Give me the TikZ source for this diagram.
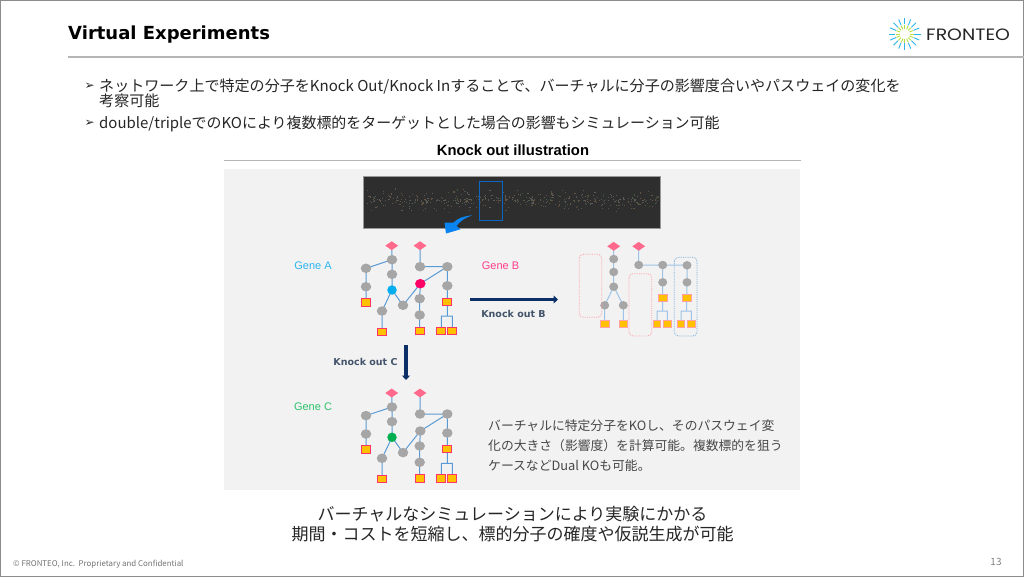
\documentclass[tikz,border=0pt]{standalone}
\usepackage{fontspec}
\setmainfont{Noto Sans CJK JP}
\newfontfamily\dejafont{DejaVu Sans}
\newfontfamily\libfont{Liberation Sans}
\newfontfamily\logofont{Poppins}
\definecolor{panelgray}{HTML}{F2F2F2}
\definecolor{rulegray}{HTML}{B5B5B5}
\definecolor{framegray}{HTML}{8C8C8C}
\definecolor{txt}{HTML}{262626}
\definecolor{darkimg}{HTML}{2E2E2E}
\definecolor{boxblue}{HTML}{0A66C2}
\definecolor{arrowblue}{HTML}{0A84F0}
\definecolor{navy}{HTML}{0B2F66}
\definecolor{slate}{HTML}{44546A}
\definecolor{edgeblue}{HTML}{5B9BD5}
\definecolor{edgelight}{HTML}{9DC3E6}
\definecolor{nodegray}{HTML}{A6A6A6}
\definecolor{diam}{HTML}{FF6A8C}
\definecolor{orng}{HTML}{FFC000}
\definecolor{sqborder}{HTML}{FF3366}
\definecolor{sqlight}{HTML}{FF9FA8}
\definecolor{geneA}{HTML}{2DB5EE}
\definecolor{geneB}{HTML}{FF3D8B}
\definecolor{geneC}{HTML}{2CC36B}
\definecolor{koA}{HTML}{00AEEF}
\definecolor{koB}{HTML}{FF0066}
\definecolor{koC}{HTML}{00B050}
\pgfdeclarelayer{panel}
\pgfdeclarelayer{edges}
\pgfsetlayers{panel,edges,main}
\usetikzlibrary{shapes.geometric,arrows.meta}
\tikzset{
  lbl/.style={inner sep=0pt,text=txt,anchor=west},
  gene/.style={inner sep=0pt,font=\libfont\fontsize{11}{11}\selectfont},
  kolabel/.style={inner sep=0pt,text=slate,font=\dejafont\bfseries\fontsize{9.5}{10}\selectfont},
  mol/.style={ellipse,fill=nodegray,inner sep=0pt,minimum width=10.5pt,minimum height=9.5pt},
  root/.style={diamond,aspect=1.5,fill=diam,inner sep=0pt,minimum width=13pt,minimum height=9pt},
  leaf/.style={rectangle,fill=orng,draw=sqborder,line width=0.9pt,inner sep=0pt,minimum width=9pt,minimum height=7.5pt},
  leaflight/.style={rectangle,fill=orng,draw=sqlight,line width=0.9pt,inner sep=0pt,minimum width=8.5pt,minimum height=7pt},
  link/.style={draw=edgeblue,line width=1pt},
  linklight/.style={draw=edgelight,line width=1pt},
  navyarrow/.style={draw=navy,fill=navy,-{Triangle[length=4.5pt,width=8pt]}},
  group/.style={rounded corners=4pt,densely dotted,line width=0.8pt},
}
\newcommand{\pathnet}[4]{%
  \node[root] (#1d1) at (391.7,245.7+#2) {};
  \node[root] (#1d2) at (420,245.7+#2) {};
  \node[mol] (#1n1) at (392,259.7+#2) {};
  \node[mol] (#1n2) at (366,268.3+#2) {};
  \node[mol] (#1n3) at (392,274.3+#2) {};
  \node[mol] (#1n4) at (366,286.7+#2) {};
  \node[mol,fill=#3,minimum width=9.5pt] (#1k) at (392,290+#2) {};
  \node[mol] (#1n5) at (382,311+#2) {};
  \node[mol] (#1n6) at (403,305.3+#2) {};
  \node[mol] (#1r1) at (420,266.7+#2) {};
  \node[mol] (#1r2) at (447.3,266.7+#2) {};
  \node[mol,fill=#4] (#1p) at (420.3,283.7+#2) {};
  \node[mol] (#1r3) at (419.7,298.7+#2) {};
  \node[mol] (#1r4) at (419.7,315+#2) {};
  \node[mol] (#1r5) at (447.3,285.7+#2) {};
  \node[leaf] (#1s1) at (366,302.3+#2) {};
  \node[leaf] (#1s2) at (382,331.7+#2) {};
  \node[leaf] (#1s3) at (419.7,331+#2) {};
  \node[leaf] (#1s4) at (447.3,301.7+#2) {};
  \node[leaf] (#1s5) at (441.3,331+#2) {};
  \node[leaf] (#1s6) at (452.3,331+#2) {};
  \coordinate (#1f) at (447.3,316+#2);
  \begin{pgfonlayer}{edges}
    \path[link] (#1d1.center)--(#1n1.center) (#1n1.center)--(#1n2.center) (#1n1.center)--(#1n3.center)
      (#1n2.center)--(#1n4.center) (#1n3.center)--(#1k.center) (#1n4.center)--(#1s1.center)
      (#1k.center)--(#1n5.center) (#1k.center)--(#1n6.center) (#1n5.center)--(#1s2.center)
      (#1n6.center)--(#1p.center) (#1d2.center)--(#1r1.center) (#1r1.center)--(#1r2.center)
      (#1r2.center)--(#1p.center) (#1p.center)--(#1r3.center) (#1r3.center)--(#1r4.center)
      (#1r4.center)--(#1s3.center) (#1r2.center)--(#1r5.center) (#1r5.center)--(#1s4.center)
      (#1s4.center)--(#1f) (#1f)-|(#1s5.center) (#1f)-|(#1s6.center);
  \end{pgfonlayer}%
}
\begin{document}
\begin{tikzpicture}[x=1pt,y=-1pt]
\useasboundingbox (0,0) rectangle (1024,577);
\begin{pgfonlayer}{panel}
  \fill[white] (0,0) rectangle (1024,577);
  \fill[panelgray] (224,169) rectangle (800,490);
\end{pgfonlayer}
\draw[framegray,line width=1pt] (0.5,0.5) rectangle (1023.5,576.5);
% header
\node[lbl,text=black,font=\dejafont\bfseries\fontsize{18}{18}\selectfont] (title) at (68,34.5) {Virtual Experiments};
\draw[rulegray,line width=1.2pt] (68,57) -- (1024,57);
% logo
\foreach \a in {0,22.5,...,337.5}{
  \draw[color=yellow!65!green!80!white,line width=0.9pt] (904.7,34)++(\a:5) -- ++(\a:4);
  \draw[color=geneA,line width=0.9pt] (904.7,34)++(\a:9.5) -- ++(\a:6.3);
}
\node[lbl,text=txt,xscale=1.15,font=\logofont\fontsize{16.4}{17}\selectfont] (logo) at (926,34.5) {FRONTEO};
% bullets
\node[lbl,font=\dejafont\fontsize{12}{12}\selectfont] (b1) at (84.5,86) {➢};
\node[lbl,font=\fontsize{15.05}{15}\selectfont] (t1) at (99,86.5) {ネットワーク上で特定の分子をKnock Out/Knock Inすることで、バーチャルに分子の影響度合いやパスウェイの変化を};
\node[lbl,font=\fontsize{15.05}{15}\selectfont] (t1b) at (99,101) {考察可能};
\node[lbl,font=\dejafont\fontsize{12}{12}\selectfont] (b2) at (84.5,123) {➢};
\node[lbl,font=\fontsize{14.95}{15}\selectfont] (t2) at (99,123.5) {double/tripleでのKOにより複数標的をターゲットとした場合の影響もシミュレーション可能};
% panel heading
\node[inner sep=0pt,text=black,font=\libfont\bfseries\fontsize{14.8}{15}\selectfont] (head) at (513,150) {Knock out illustration};
\draw[rulegray,line width=1.2pt] (224,160.5) -- (801,160.5);
% overview image
\fill[darkimg,draw=gray!80,line width=0.7pt] (363.3,176.7) rectangle (660.6,228.7);
\pgfmathsetseed{11}
\foreach \i in {1,...,420}{
  \pgfmathsetmacro{\dx}{367+292*rnd}
  \pgfmathsetmacro{\dy}{200+(rnd-0.5)*(rnd)*26}
  \pgfmathsetmacro{\tone}{int(3*rnd)}
  \ifnum\tone=0 \def\dc{gray!55!darkimg}\fi
  \ifnum\tone=1 \def\dc{orange!30!gray!45!darkimg}\fi
  \ifnum\tone>1 \def\dc{green!20!gray!40!darkimg}\fi
  \fill[color=\dc] (\dx,\dy) rectangle +(1.1,1.1);
}
\draw[boxblue,line width=1pt] (479,181.7) rectangle (502.3,220.7);
\fill[arrowblue] (472.3,215.3) .. controls (464,216) and (458,218) .. (453.5,222.5)
  -- (444.5,222.7) -- (446,233.5) -- (460.5,229.3) -- (456.5,226)
  .. controls (460,221) and (465,218) .. (472.3,215.3) -- cycle;
% gene labels
\node[gene,text=geneA] (gA) at (313,265.5) {Gene A};
\node[gene,text=geneB] (gB) at (500.5,265.5) {Gene B};
\node[gene,text=geneC] (gC) at (313,407) {Gene C};
% networks
\pathnet{a}{0}{koA}{koB}
\pathnet{c}{147.3}{koC}{nodegray}
% knocked-out network
\node[root] (bd1) at (613.7,246.3) {};
\node[root] (bd2) at (638.7,246.3) {};
\node[mol,minimum width=9pt,minimum height=8.5pt] (bn1) at (613.7,259) {};
\node[mol,minimum width=9pt,minimum height=8.5pt] (bn2) at (613.7,272) {};
\node[mol,minimum width=9pt,minimum height=8.5pt] (bn3) at (613.7,286.7) {};
\node[mol,minimum width=9pt,minimum height=8.5pt] (bn4) at (604.7,305.3) {};
\node[mol,minimum width=9pt,minimum height=8.5pt] (bn5) at (623.3,305.3) {};
\node[leaflight] (bs1) at (604.7,324.3) {};
\node[leaflight] (bs2) at (623.3,324.3) {};
\node[mol,minimum width=9pt,minimum height=8.5pt] (br1) at (638.7,265) {};
\node[mol,minimum width=9pt,minimum height=8.5pt] (br2) at (662.7,265) {};
\node[mol,minimum width=9pt,minimum height=8.5pt] (br3) at (687,265.3) {};
\node[mol,minimum width=9pt,minimum height=8.5pt] (br4) at (662.7,282.3) {};
\node[mol,minimum width=9pt,minimum height=8.5pt] (br5) at (687,282.3) {};
\node[leaflight] (bs3) at (662.7,297.7) {};
\node[leaflight] (bs4) at (686.7,297.7) {};
\node[leaflight,minimum width=7.5pt] (bs5) at (657,323.7) {};
\node[leaflight,minimum width=7.5pt] (bs6) at (667.3,323.7) {};
\node[leaflight,minimum width=7.5pt] (bs7) at (681,323.7) {};
\node[leaflight,minimum width=7.5pt] (bs8) at (691.3,323.7) {};
\coordinate (bf1) at (662.7,311);
\coordinate (bf2) at (686.7,311);
\begin{pgfonlayer}{edges}
  \path[linklight] (bd1.center)--(bn1.center) (bn1.center)--(bn2.center) (bn2.center)--(bn3.center)
    (bn3.center)--(bn4.center) (bn3.center)--(bn5.center) (bn4.center)--(bs1.center) (bn5.center)--(bs2.center)
    (bd2.center)--(br1.center) (br1.center)--(br2.center) (br2.center)--(br3.center)
    (br2.center)--(br4.center) (br3.center)--(br5.center) (br4.center)--(bs3.center) (br5.center)--(bs4.center)
    (bs3.center)--(bf1) (bf1)-|(bs5.center) (bf1)-|(bs6.center)
    (bs4.center)--(bf2) (bf2)-|(bs7.center) (bf2)-|(bs8.center);
\end{pgfonlayer}
\draw[group,color=sqlight] (579.3,254.3) rectangle (601.7,317.3);
\draw[group,color=sqlight] (629,273.7) rectangle (651.7,336);
\draw[group,color=edgeblue!85] (674.3,257.3) rectangle (697,336);
% knockout arrows
\coordinate (kbs) at (470,299.5);
\coordinate (kbe) at (558,299.5);
\draw[navyarrow,line width=2.6pt] (kbs) -- (kbe);
\node[kolabel] (kbl) at (513.5,314) {Knock out B};
\coordinate (kcs) at (406,345);
\coordinate (kce) at (406,380);
\draw[navyarrow,line width=3.8pt] (kcs) -- (kce);
\node[kolabel] (kcl) at (365.5,362) {Knock out C};
% explanation
\node[lbl,text=txt!85,font=\fontsize{12.8}{13}\selectfont] (e1) at (488,426) {バーチャルに特定分子をKOし、そのパスウェイ変};
\node[lbl,text=txt!85,font=\fontsize{12.8}{13}\selectfont] (e2) at (488,446) {化の大きさ（影響度）を計算可能。複数標的を狙う};
\node[lbl,text=txt!85,font=\fontsize{12.8}{13}\selectfont] (e3) at (488,466) {ケースなどDual KOも可能。};
% conclusion
\node[inner sep=0pt,text=txt,font=\fontsize{17}{17}\selectfont] (c1) at (512.5,514) {バーチャルなシミュレーションにより実験にかかる};
\node[inner sep=0pt,text=txt,font=\fontsize{17}{17}\selectfont] (c2) at (512.5,534) {期間・コストを短縮し、標的分子の確度や仮説生成が可能};
% footer
\node[lbl,text=gray!90!black,font=\fontsize{7.9}{8}\selectfont] (foot) at (13,564) {© FRONTEO, Inc.\ \ Proprietary and Confidential};
\node[inner sep=0pt,text=gray,font=\fontsize{10}{10}\selectfont] (page) at (996,561.5) {13};
\end{tikzpicture}
\end{document}
